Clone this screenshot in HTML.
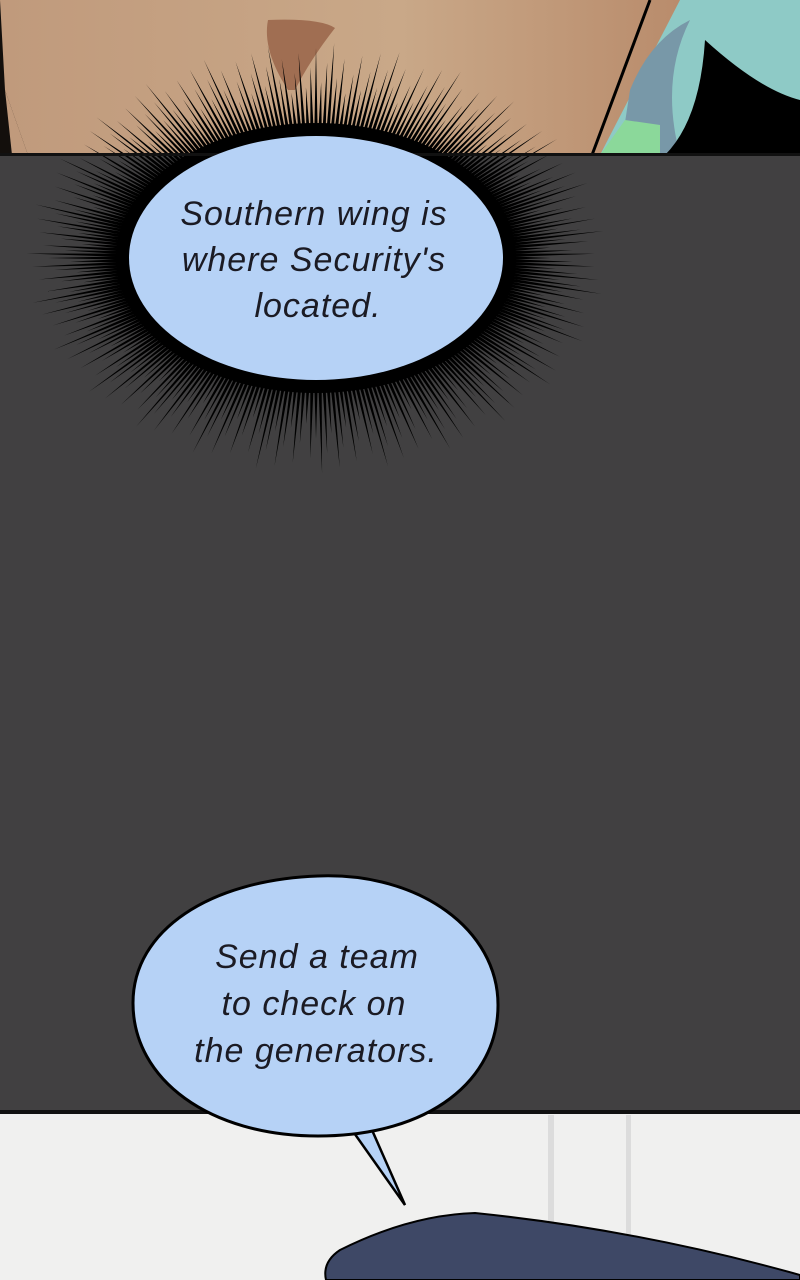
<!DOCTYPE html>
<html><head><style>
html,body{margin:0;padding:0;width:800px;height:1280px;overflow:hidden;background:#414041}
svg{display:block}
text{font-family:"Liberation Sans",sans-serif;font-style:italic;font-size:34px;letter-spacing:1px;fill:#1b1b24;text-anchor:middle}
</style></head><body>
<svg id="s" width="800" height="1280" viewBox="0 0 800 1280">
<defs>
<linearGradient id="sk" x1="0" x2="1"><stop offset="0" stop-color="#c09a7c"/><stop offset="0.5" stop-color="#c9a888"/><stop offset="0.85" stop-color="#b98c6c"/></linearGradient>
</defs>
<rect x="0" y="0" width="800" height="155" fill="url(#sk)"/>
<path d="M600,155 L680,0 L800,0 L800,155 Z" fill="#8ecac6"/>
<path d="M630,90 Q650,40 690,20 Q660,80 680,155 L620,155Z" fill="#7898a8"/>
<path d="M600,155 L625,120 L660,125 L660,155Z" fill="#8bd89a"/>
<path d="M705,40 Q760,90 800,100 L800,155 L665,155 Q700,120 705,40Z" fill="#000"/>
<path d="M592,155 L650,0" stroke="#000" stroke-width="3" fill="none"/>
<path d="M268,20 Q320,18 335,28 Q310,60 295,90 L288,90 Q262,50 268,20Z" fill="#a06e52"/>
<path d="M0,0 L5,90 L28,155 L0,155Z" fill="#000" opacity="0.9"/>
<path d="M5,90 L28,155 L12,155Z" fill="#c09a7c"/>
<g id="burst"></g>
<rect x="0" y="153" width="800" height="3" fill="#111"/>
<ellipse cx="316" cy="258" rx="187" ry="122" fill="#b6d2f6"/>
<text x="314" y="225">Southern wing is</text>
<text x="314" y="271">where Security's</text>
<text x="318" y="317">located.</text>
<rect x="0" y="1112" width="800" height="168" fill="#f0f0ef"/>
<rect x="0" y="1110" width="800" height="4" fill="#111"/>
<rect x="548" y="1115" width="6" height="165" fill="#dcdcdc"/>
<rect x="626" y="1115" width="5" height="165" fill="#dcdcdc"/>
<path d="M326,1280 Q322,1262 340,1250 Q410,1215 475,1213 Q640,1230 800,1275 L800,1280Z" fill="#3e4866" stroke="#000" stroke-width="2"/>
<path d="M352,1130 L405,1205 L372,1130Z" fill="#b6d2f6" stroke="#000" stroke-width="2.5"/>
<path d="M318,876 C420,872 498,930 498,1005 C498,1080 430,1136 318,1136 C210,1136 133,1080 133,1003 C133,930 210,880 318,876Z" fill="#b6d2f6" stroke="#000" stroke-width="3"/>
<text x="317" y="968">Send a team</text>
<text x="314" y="1015">to check on</text>
<text x="316" y="1062">the generators.</text>
</svg>
<script>
var g=document.getElementById('burst'),h='';
var cx=316,cy=258;
for(var i=0;i<300;i++){
 var a=i/300*Math.PI*2,c=Math.cos(a),s=Math.sin(a);
 var r0x=195,r0y=130;
 var L=40+60*(((i*37)%11)/11);
 var x1=cx+c*r0x,y1=cy+s*r0y,x2=cx+c*(r0x+L),y2=cy+s*(r0y+L*0.9);
 var px=-s*1.6,py=c*1.6;
 h+='<path d="M'+(x1+px)+','+(y1+py)+' L'+x2+','+y2+' L'+(x1-px)+','+(y1-py)+'Z" fill="#000"/>';
}
h+='<ellipse cx="316" cy="258" rx="200" ry="135" fill="#000"/>';
g.innerHTML=h;
</script>
</body></html>
